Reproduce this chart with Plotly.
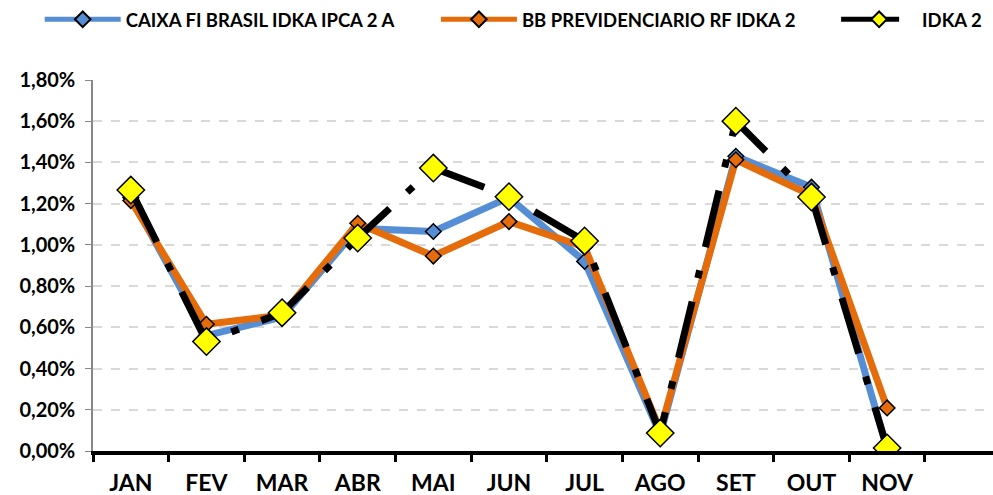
import plotly.graph_objects as go

months = ["JAN", "FEV", "MAR", "ABR", "MAI", "JUN", "JUL", "AGO", "SET", "OUT", "NOV"]
caixa = [1.23, 0.56, 0.65, 1.08, 1.065, 1.23, 0.92, 0.08, 1.43, 1.28, 0.01]
bb = [1.215, 0.615, 0.66, 1.105, 0.946, 1.113, 0.99, 0.10, 1.413, 1.24, 0.209]
idka = [1.266, 0.531, 0.671, 1.033, 1.373, 1.234, 1.019, 0.087, 1.600, 1.232, 0.015]
y_ticks = [0.0, 0.2, 0.4, 0.6, 0.8, 1.0, 1.2, 1.4, 1.6, 1.8]


def pct(vals):
    return [v / 100 for v in vals]


FONT = "Lato"
BLUE = "#558ED5"
ORANGE = "#E46C0A"

fig = go.Figure()
fig.add_trace(go.Scatter(
    x=months, y=pct(caixa), name="CAIXA FI BRASIL IDKA IPCA 2 A", mode="lines+markers",
    line=dict(color=BLUE, width=7),
    marker=dict(symbol="diamond", size=12, color=BLUE, line=dict(color="black", width=1.5)),
    legend="legend", showlegend=True))
fig.add_trace(go.Scatter(
    x=months, y=pct(bb), name="BB PREVIDENCIARIO RF IDKA 2", mode="lines+markers",
    line=dict(color=ORANGE, width=7),
    marker=dict(symbol="diamond", size=12, color=ORANGE, line=dict(color="black", width=1.5)),
    legend="legend2", showlegend=True))
fig.add_trace(go.Scatter(
    x=months, y=pct(idka), name="IDKA 2", mode="lines+markers",
    line=dict(color="black", width=7, dash="58px,24px,8px,24px"),
    marker=dict(symbol="diamond", size=21, color="#FFFF00", line=dict(color="black", width=1.5)),
    legend="legend3", showlegend=True))

leg_common = dict(orientation="h", yanchor="middle", y=0.96, yref="container", xref="container",
                  xanchor="left",
                  font=dict(family=FONT, size=18.5, color="black", weight="bold"),
                  bgcolor="rgba(0,0,0,0)", itemwidth=76, itemsizing="constant")
fig.update_layout(
    width=993, height=495,
    showlegend=True,
    margin=dict(l=93, r=0, t=80, b=44, autoexpand=False),
    plot_bgcolor="white", paper_bgcolor="white",
    separators=",.",
    font=dict(family=FONT, color="black"),
    legend=dict(leg_common, x=0.040),
    legend2=dict(leg_common, x=0.439),
    legend3=dict(leg_common, x=0.842),
)

fig.update_xaxes(
    type="category", categoryorder="array", categoryarray=months,
    range=[-0.5, 11.4], tickson="boundaries", ticks="outside", ticklen=7, tickwidth=3,
    tickcolor="black", showline=True, linewidth=4, linecolor="black", showgrid=False,
    tickfont=dict(family=FONT, size=23, color="black", weight="bold"), ticklabelstandoff=8)
fig.update_yaxes(
    range=[0, 0.018], tickvals=pct(y_ticks), tickformat=".2%",
    ticks="outside", ticklen=6, tickwidth=1, tickcolor="#888888",
    showline=True, linewidth=1.5, linecolor="#888888", zeroline=False,
    showgrid=True, gridcolor="#D9D9D9", gridwidth=1.5, griddash="dash",
    tickfont=dict(family=FONT, size=20, color="black", weight="bold"), ticklabelstandoff=6)

fig.write_html("out.html", config={"displayModeBar": False},
               post_script="document.body.style.margin='0';document.body.style.overflow='hidden';")
